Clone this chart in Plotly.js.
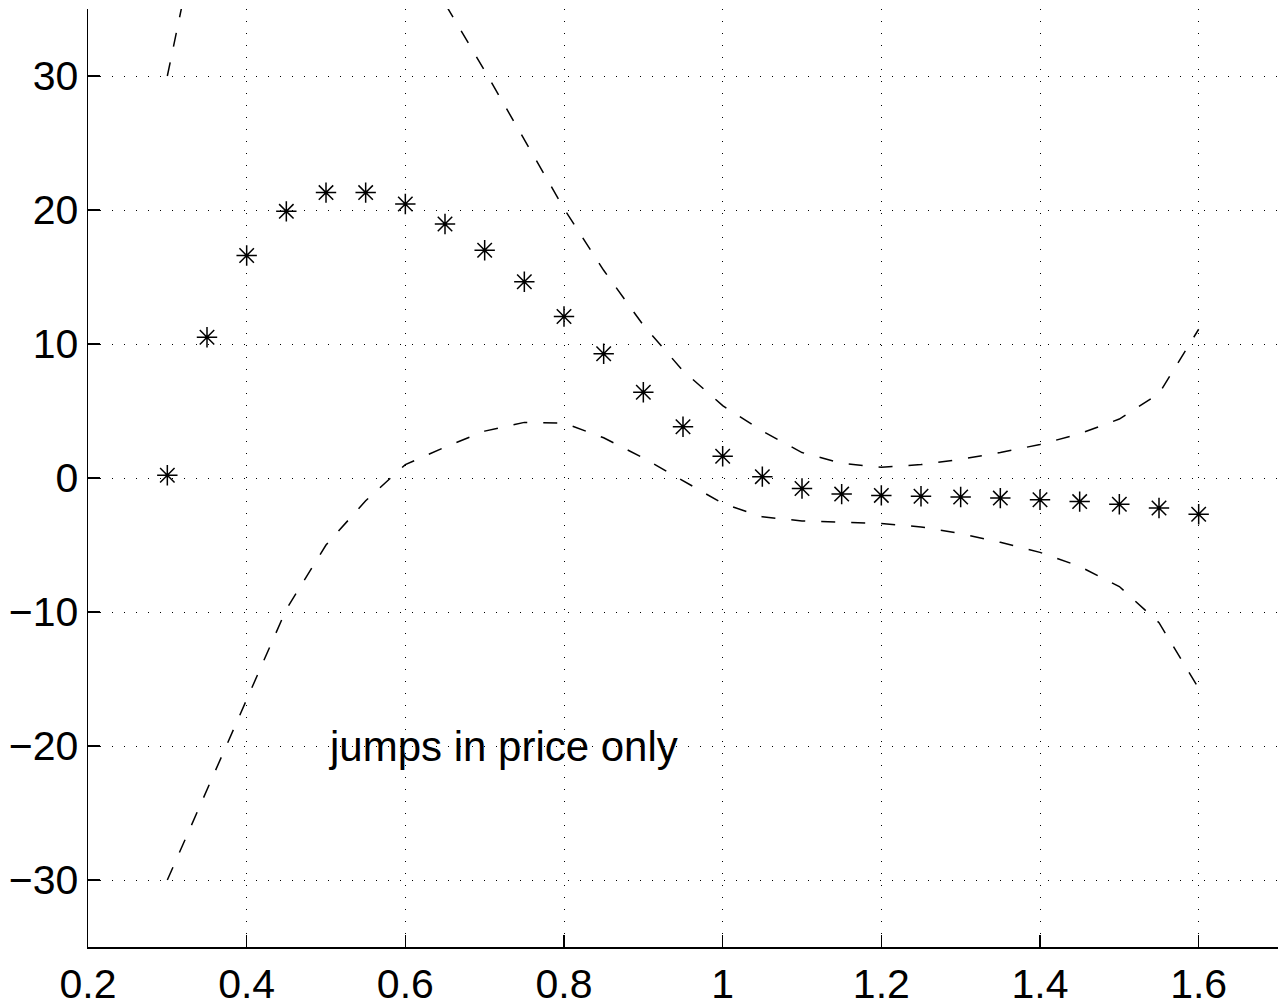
<!DOCTYPE html>
<html>
<head>
<meta charset="utf-8">
<script src="https://cdn.plot.ly/plotly-3.0.1.min.js"></script>
<style>
  html, body { margin: 0; padding: 0; background: #fff; }
  #chart { width: 1286px; height: 1006px; }
</style>
</head>
<body>
<div id="chart"></div>
<script>
// Strike levels
const strikes = [0.3, 0.35, 0.4, 0.45, 0.5, 0.55, 0.6, 0.65, 0.7, 0.75, 0.8, 0.85, 0.9, 0.95,
                 1.0, 1.05, 1.1, 1.15, 1.2, 1.25, 1.3, 1.35, 1.4, 1.45, 1.5, 1.55, 1.6];

// Point estimates (asterisks)
const estimate = [0.2, 10.5, 16.6, 19.9, 21.3, 21.3, 20.45, 18.95, 17.0, 14.65, 12.05, 9.27, 6.4, 3.82,
                  1.62, 0.1, -0.78, -1.2, -1.3, -1.36, -1.42, -1.5, -1.62, -1.76, -1.96, -2.24, -2.7];

// Upper confidence band (dashed)
const upperBand = [30.0, 44.2, 49.7, 49.6, 47.6, 44.3, 39.9, 35.4, 30.4, 25.3, 20.1, 15.5, 11.4, 8.0,
                   5.4, 3.5, 1.9, 1.1, 0.8, 1.0, 1.4, 1.9, 2.5, 3.3, 4.4, 6.3, 11.1];

// Lower confidence band (dashed)
const lowerBand = [-30.0, -23.3, -16.5, -9.8, -5.0, -1.7, 1.0, 2.3, 3.5, 4.15, 4.1, 3.0, 1.5, -0.2,
                   -1.9, -2.9, -3.2, -3.3, -3.4, -3.65, -4.15, -4.8, -5.55, -6.6, -8.1, -10.8, -15.7];

// Axis ticks
const xTickVals = [0.2, 0.4, 0.6, 0.8, 1.0, 1.2, 1.4, 1.6];
const xTickText = ['0.2', '0.4', '0.6', '0.8', '1', '1.2', '1.4', '1.6'];
const yTickVals = [-30, -20, -10, 0, 10, 20, 30];
const yTickText = ['\u221230', '\u221220', '\u221210', '0', '10', '20', '30'];

const FONT = '"Liberation Sans", Helvetica, Arial, sans-serif';

const dashStyle = { color: '#000', width: 1.5, dash: '14px,16px' };

const traces = [
  { x: strikes, y: upperBand, mode: 'lines', line: dashStyle, hoverinfo: 'skip' },
  { x: strikes, y: lowerBand, mode: 'lines', line: dashStyle, hoverinfo: 'skip' },
  {
    x: strikes, y: estimate, mode: 'markers',
    marker: { symbol: 'asterisk-open', size: 17, color: '#000', line: { color: '#000', width: 1.5 } }
  }
];

const axisCommon = {
  showline: true, linecolor: '#000', linewidth: 1.5, mirror: false,
  ticks: 'inside', ticklen: 12, tickwidth: 1.3, tickcolor: '#000',
  showgrid: true, gridcolor: '#000', gridwidth: 1, griddash: '1px,11px',
  zeroline: false,
  tickfont: { family: FONT, size: 41, color: '#000' }
};

const layout = {
  width: 1286, height: 1006,
  margin: { l: 88, r: 8, t: 9, b: 59 },
  paper_bgcolor: '#fff', plot_bgcolor: '#fff',
  showlegend: false,
  xaxis: Object.assign({}, axisCommon, {
    range: [0.2, 1.7], tickmode: 'array', tickvals: xTickVals, ticktext: xTickText
  }),
  yaxis: Object.assign({}, axisCommon, {
    range: [-35, 35], tickmode: 'array', tickvals: yTickVals, ticktext: yTickText
  }),
  annotations: [{
    x: 0.5, y: -20, xref: 'x', yref: 'y',
    text: 'jumps in price only', showarrow: false,
    xanchor: 'left', yanchor: 'middle',
    font: { family: FONT, size: 42, color: '#000' }
  }]
};

Plotly.newPlot('chart', traces, layout, { displayModeBar: false, staticPlot: true });
</script>
</body>
</html>
